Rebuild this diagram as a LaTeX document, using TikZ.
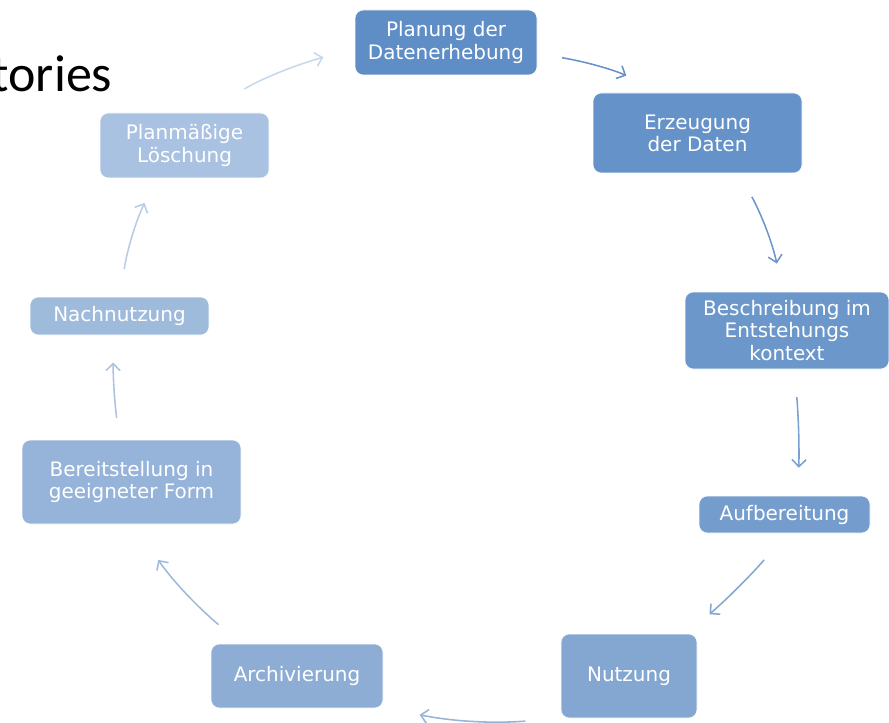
\documentclass[tikz,border=0pt]{standalone}
\usepackage{fontspec}
\setmainfont{DejaVu Sans}
\newfontfamily\titlefont{Carlito}
\usetikzlibrary{arrows.meta,positioning}

\definecolor{PlanBlue}{HTML}{5F8DC6}
\definecolor{ErzBlue}{HTML}{6593C9}
\definecolor{BeschBlue}{HTML}{6C97CB}
\definecolor{AufbBlue}{HTML}{749DCE}
\definecolor{NutzBlue}{HTML}{84A7D2}
\definecolor{ArchBlue}{HTML}{8DADD5}
\definecolor{BereitBlue}{HTML}{96B3D9}
\definecolor{NachBlue}{HTML}{9FBBDC}
\definecolor{LoeschBlue}{HTML}{A9C2E1}

\begin{document}
\begin{tikzpicture}
			\tikzstyle{Phase} = [rectangle, rounded corners=6pt, draw=white, line width=0.4pt, text=white, align=center, inner sep=0pt, font=\fontsize{14.2}{15.8}\selectfont]
			\tikzstyle{Flow}  = [line width=1.1pt, -{Straight Barb[length=5pt,width=10pt]}, bend left=8]
			
			\useasboundingbox (0,0) rectangle (22.225,-18.075);
			\clip (0,0) rectangle (22.225,-18.075);
			
			\node (title) at (2.93, -2.3) [anchor=base east, font=\titlefont\fontsize{37}{42}\selectfont] {tories};
			
			\node (plan)   at (11.15, -1.0625)  [Phase, fill=PlanBlue,   minimum width=4.55cm,  minimum height=1.625cm] {Planung der\\Datenerhebung};
			\node (erz)    at (17.4375, -3.325) [Phase, fill=ErzBlue,    minimum width=5.225cm, minimum height=2.0cm]   {Erzeugung\\der Daten};
			\node (besch)  at (19.675, -8.2625) [Phase, fill=BeschBlue,  minimum width=5.1cm,   minimum height=1.925cm] {Beschreibung im\\Entstehungs\\kontext};
			\node (aufb)   at (19.6125, -12.8625) [Phase, fill=AufbBlue, minimum width=4.275cm, minimum height=0.925cm] {Aufbereitung};
			\node (nutz)   at (15.725, -16.9)   [Phase, fill=NutzBlue,   minimum width=3.4cm,   minimum height=2.1cm]   {Nutzung};
			\node (arch)   at (7.425, -16.9)    [Phase, fill=ArchBlue,   minimum width=4.3cm,   minimum height=1.6cm]   {Archivierung};
			\node (bereit) at (3.2875, -12.05)  [Phase, fill=BereitBlue, minimum width=5.475cm, minimum height=2.1cm]   {Bereitstellung in\\geeigneter Form};
			\node (nach)   at (2.9875, -7.9)    [Phase, fill=NachBlue,   minimum width=4.475cm, minimum height=0.95cm]  {Nachnutzung};
			\node (loesch) at (4.6125, -3.6375) [Phase, fill=LoeschBlue, minimum width=4.225cm, minimum height=1.625cm] {Planmäßige\\Löschung};
			
			\draw [Flow, PlanBlue!95,   shorten <=0.63cm, shorten >=1.0cm] (plan.-7) to (erz.131);
			\draw [Flow, ErzBlue!95,    shorten <=0.67cm, shorten >=0.72cm] (erz.-44) to (besch.96);
			\draw [Flow, BeschBlue!90,  shorten <=0.7cm,  shorten >=0.7cm, bend left=3] (besch.-79) to (aufb.54);
			\draw [Flow, AufbBlue!90,   shorten <=0.88cm, shorten >=0.74cm, bend left=4] (aufb.-82) to (nutz.36);
			\draw [Flow, NutzBlue!85,   shorten <=0.9cm,  shorten >=0.93cm] (nutz.-148) to (arch.-20);
			\draw [Flow, ArchBlue!85,   shorten <=0.74cm, shorten >=1.07cm] (arch.150) to (bereit.-86);
			\draw [Flow, BereitBlue!80, shorten <=0.55cm, shorten >=0.68cm, bend left=4] (bereit.106) to (nach.-107);
			\draw [Flow, NachBlue!75,   shorten <=0.7cm,  shorten >=0.68cm] (nach.89) to (loesch.-131);
			\draw [Flow, LoeschBlue!65, shorten <=1.15cm, shorten >=0.81cm] (loesch.58) to (plan.-176);
\end{tikzpicture}
\end{document}
